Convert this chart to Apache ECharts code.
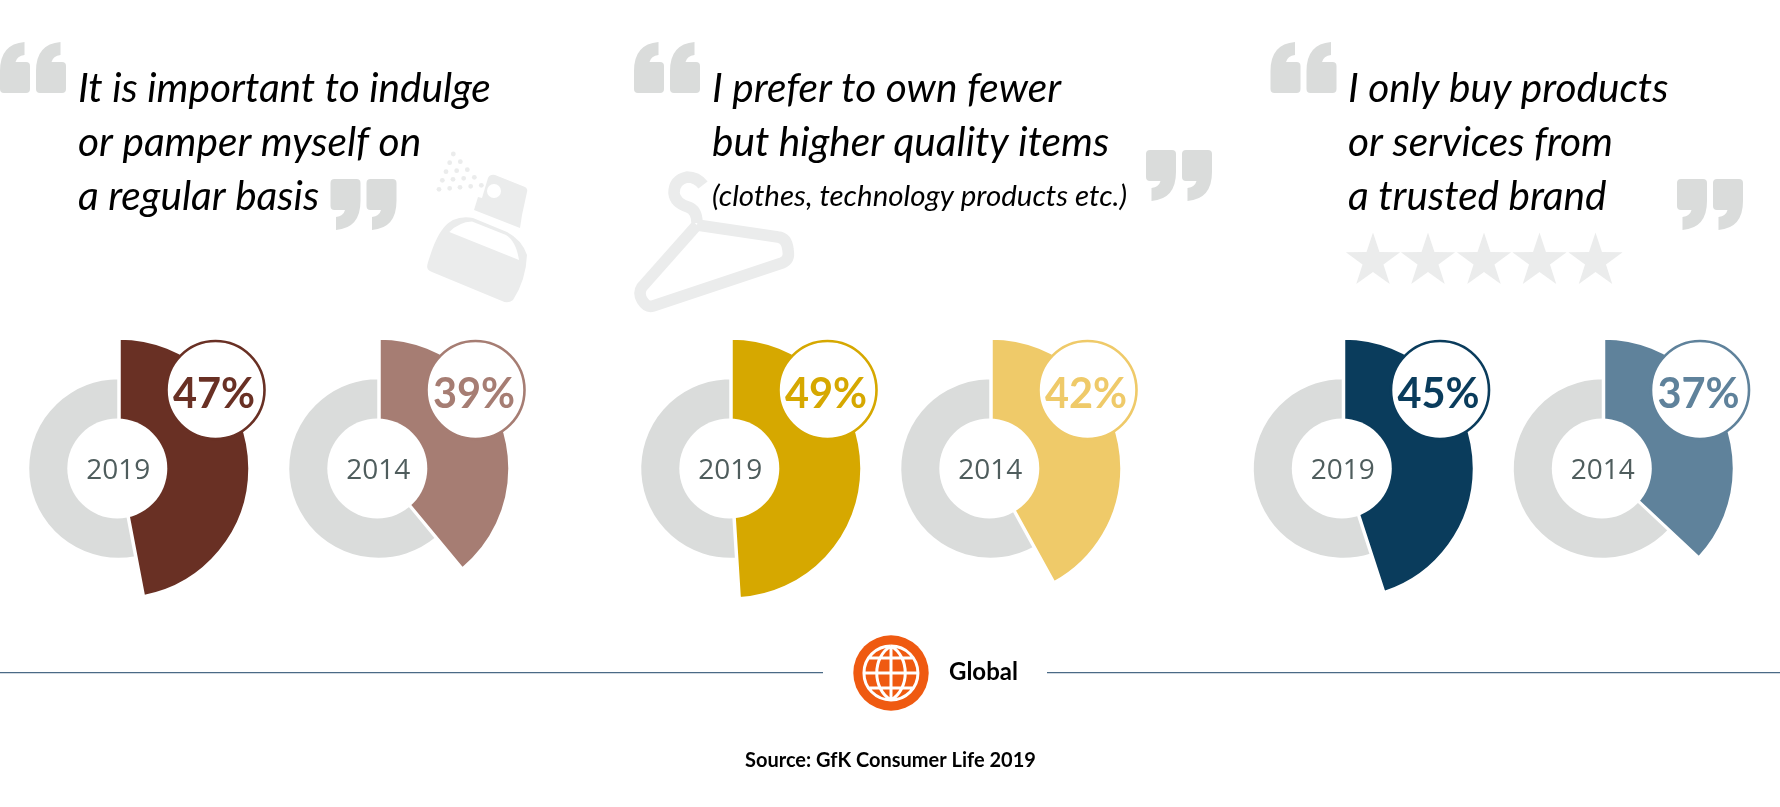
<!DOCTYPE html>
<html>
<head>
<meta charset="utf-8">
<title>GfK Consumer Life 2019</title>
<style>
  html, body { margin: 0; padding: 0; background: #fff; }
  #main { width: 1780px; height: 807px; }
</style>
<script src="https://cdn.jsdelivr.net/npm/echarts@6/dist/echarts.min.js"></script>
</head>
<body>
<div id="main"></div>
<script>
/* data */
const years = ["2019", "2014"];
const values2019 = [47, 49, 45];
const values2014 = [39, 42, 37];
const colors2019 = ["#693024", "#d6a800", "#0a3c5c"];
const colors2014 = ["#a67d73", "#efca69", "#5f829b"];
const quoteLines = [
  ["It is important to indulge", "or pamper myself on", "a regular basis"],
  ["I prefer to own fewer", "but higher quality items"],
  ["I only buy products", "or services from", "a trusted brand"]
];
const quoteNote = "(clothes, technology products etc.)";
const regionLabel = "Global";
const sourceLabel = "Source: GfK Consumer Life 2019";

/* layout */
const GRAY = "#dadcdb";
const ICON = "#ebecec";
const FONT = "Lato";
const donutX = [[118.5, 378.5], [730.5, 990.5], [1343, 1603]];
const donutY = 468.5;
const quoteX = [78, 712, 1348];
const lineY = [88.5, 142.5, 196.5];

const series = [];

function addDonut(cx, value, year, color) {
  // grey ring
  series.push({
    type: "pie", silent: true, animation: false, z: 2,
    center: [cx, donutY], radius: [40, 90.5], startAngle: 90,
    itemStyle: { borderColor: "#fff", borderWidth: 2.5 },
    label: { show: false }, labelLine: { show: false },
    data: [
      { value: value, name: year, itemStyle: { color: "transparent", borderWidth: 0 } },
      { value: 100 - value, name: "rest", itemStyle: { color: GRAY } }
    ]
  });
  // coloured slice, reaches further out than the ring
  series.push({
    type: "pie", silent: true, animation: false, z: 3,
    center: [cx + 1, donutY], radius: [40, 130], startAngle: 90,
    itemStyle: { borderColor: "#fff", borderWidth: 2.5 },
    label: { show: false }, labelLine: { show: false },
    data: [
      { value: value, name: year, itemStyle: { color: color } },
      { value: 100 - value, name: "rest", itemStyle: { color: "transparent", borderWidth: 0 } }
    ]
  });
  // white hole with the year in it
  series.push({
    type: "pie", silent: true, animation: false, z: 4,
    center: [cx - 1.2, donutY], radius: [0, 50],
    itemStyle: { color: "#fff" },
    labelLine: { show: false },
    labelLayout: { dx: 1, dy: 2.3 },
    label: { show: true, position: "center", formatter: "{b}", fontFamily: "Open Sans",
      fontSize: 28, color: "#4f5d5d" },
    data: [{ value: 1, name: year }]
  });
  // percent bubble
  series.push({
    type: "pie", silent: true, animation: false, z: 5,
    center: [cx + 97, donutY - 78.5], radius: [0, 49],
    itemStyle: { color: "#fff", borderColor: color, borderWidth: 2.6 },
    labelLine: { show: false },
    labelLayout: { dx: -1.5, dy: 4.5 },
    label: { show: true, position: "center", formatter: "{c}%", fontFamily: FONT,
      fontWeight: "bold", fontSize: 41.5, color: color },
    data: [{ value: value, name: year }]
  });
}

values2019.forEach(function (v, i) {
  addDonut(donutX[i][0], v, years[0], colors2019[i]);
  addDonut(donutX[i][1], values2014[i], years[1], colors2014[i]);
});

/* icon shapes */
function iconShape(name, pathData) {
  echarts.graphic.registerShape(name, echarts.graphic.extendPath(pathData, {}));
}
// closing quote mark; the opening one is the same turned round
iconShape("quoteMark", "M4 0H26Q30 0 30 4V22Q30 49 5.5 51V38Q13 37 14.5 31H4Q0 31 0 27V4Q0 0 4 0Z" +
  "M40 0H62Q66 0 66 4V22Q66 49 41.5 51V38Q49 37 50.5 31H40Q36 31 36 27V4Q36 0 40 0Z");
iconShape("bottleBody", "M17.3 125C22 110 28 88 43 80Q52 76 63 78L97 92Q112 100 117 115Q116 140 103 160Q98 164 92 161L22 132Q16 130 17.3 125Z");
iconShape("bottleBand", "M39.3 92Q49 82 62 81.5L96 95Q106 101 109 120Z");
iconShape("bottleNozzle", "M85 35L115 47Q118 49 117 52L112 75L110 88L64 70L68 57L72 58L78 38Q80 34 85 35Z");
iconShape("hanger", "M78 25Q72 17 62 17Q49 20 49 33Q50 43 63 47Q72 50 72 63M72 65L17 127Q13 133 17 140Q22 148 28 146L157 103Q165 100 163 90Q162 78 153 77L72 65");
iconShape("globeLines", "M30 3A27 27 0 1 1 29.9 3M30 3V57M30 3C11 14 11 46 30 57M30 3C49 14 49 46 30 57M3 30H57M8 15H52M8 45H52");

function closeMark(x, y) {
  return { type: "quoteMark", x: x, y: y, style: { fill: GRAY }, silent: true, z: 1 };
}
function openMark(x, y) {
  return { type: "quoteMark", x: x + 66, y: y + 51, rotation: Math.PI, style: { fill: GRAY }, silent: true, z: 1 };
}

function textEl(x, y, text, size, opts) {
  return {
    type: "text", x: x, y: y, silent: true, z: 5,
    style: Object.assign({ text: text, fontFamily: FONT, fontSize: size, fill: "#000",
      textAlign: "left", textVerticalAlign: "middle", verticalAlign: "middle" }, opts)
  };
}

const elements = [
  openMark(0, 42), closeMark(330.5, 179),
  openMark(634, 42), closeMark(1146, 150),
  openMark(1270.5, 42), closeMark(1677, 179)
];

/* perfume bottle */
const dots = [[130, 42], [119, 68], [151, 65], [108, 95], [140, 92], [172, 89], [97, 121], [129, 118],
  [161, 115], [193, 112], [87, 148], [119, 145], [150, 142], [182, 139], [214, 136]];
dots.forEach(function (d) {
  elements.push({ type: "circle", x: 410, y: 140, silent: true, z: 1,
    shape: { cx: d[0] / 3, cy: d[1] / 3, r: 2.4 }, style: { fill: ICON } });
});
["bottleBody", "bottleBand", "bottleNozzle"].forEach(function (name) {
  elements.push({ type: name, x: 410, y: 140, silent: true, z: 1,
    style: { fill: name === "bottleBand" ? "#fff" : ICON } });
});
elements.push({ type: "circle", x: 410, y: 140, silent: true, z: 1,
  shape: { cx: 84, cy: 51, r: 7 }, style: { fill: "#fff" } });

/* hanger */
elements.push({
  type: "hanger", x: 625, y: 160, silent: true, z: 1,
  style: { fill: "none", stroke: ICON, lineWidth: 11.5, lineJoin: "round", lineCap: "butt" }
});

/* five stars */
[1373, 1428, 1484, 1539.5, 1595.5].forEach(function (sx) {
  const pts = [];
  for (let k = 0; k < 10; k++) {
    const r = k % 2 ? 11 : 28.5;
    const a = -Math.PI / 2 + k * Math.PI / 5;
    pts.push([sx + r * Math.cos(a), 261 + r * Math.sin(a)]);
  }
  elements.push({ type: "polygon", shape: { points: pts }, style: { fill: ICON }, silent: true, z: 1 });
});

/* quote text */
quoteLines.forEach(function (lines, i) {
  lines.forEach(function (line, j) {
    elements.push(textEl(quoteX[i], lineY[j], line, 40.6, { fontStyle: "italic" }));
  });
});
elements.push(textEl(quoteX[1], lineY[2], quoteNote, 29.5, { fontStyle: "italic" }));

/* footer */
elements.push({ type: "line", shape: { x1: 0, y1: 672.7, x2: 823, y2: 672.7 }, silent: true,
  style: { stroke: "#4a6a86", lineWidth: 1.3 } });
elements.push({ type: "line", shape: { x1: 1047, y1: 672.7, x2: 1780, y2: 672.7 }, silent: true,
  style: { stroke: "#4a6a86", lineWidth: 1.3 } });
elements.push({ type: "circle", shape: { cx: 891, cy: 673, r: 37.7 }, style: { fill: "#ef5a11" }, silent: true });
elements.push({
  type: "globeLines", x: 861, y: 643, silent: true, z: 2,
  style: { fill: "none", stroke: "#fff", lineWidth: 3 }
});
elements.push(textEl(949, 672, regionLabel, 24, { fontWeight: "bold" }));
elements.push(textEl(745, 761, sourceLabel, 20, { fontWeight: "bold" }));

const chart = echarts.init(document.getElementById("main"));
chart.setOption({
  backgroundColor: "#fff",
  animation: false,
  series: series,
  graphic: { elements: elements }
});
</script>
</body>
</html>
